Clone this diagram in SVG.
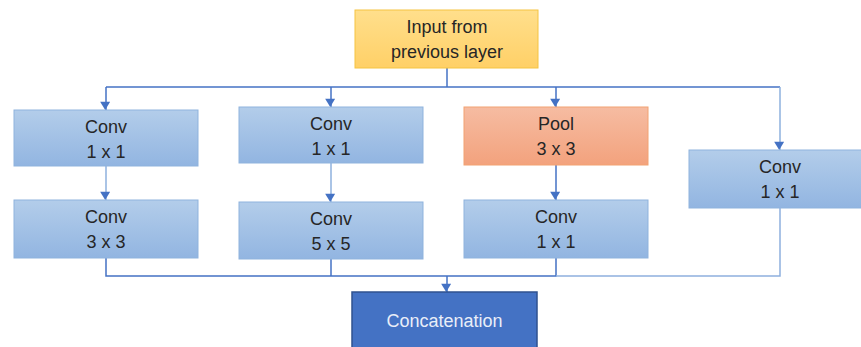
<svg xmlns="http://www.w3.org/2000/svg" width="861" height="347" viewBox="0 0 861 347">
<defs>
<linearGradient id="gBlue" x1="0" y1="0" x2="0" y2="1"><stop offset="0" stop-color="#b3cdea"/><stop offset="1" stop-color="#92b5e1"/></linearGradient>
<linearGradient id="gPool" x1="0" y1="0" x2="0" y2="1"><stop offset="0" stop-color="#f6bca2"/><stop offset="1" stop-color="#f3a27d"/></linearGradient>
<linearGradient id="gIn" x1="0" y1="0" x2="0" y2="1"><stop offset="0" stop-color="#ffdf8c"/><stop offset="1" stop-color="#ffd067"/></linearGradient>
<marker id="arr" markerUnits="userSpaceOnUse" markerWidth="12" markerHeight="10" refX="6" refY="10" orient="auto-start-reverse" viewBox="0 0 12 10">
<path d="M0,0 L12,0 L6,10 Z" fill="#4472c4" transform="rotate(-90 6 5)"/>
</marker>
<marker id="arrD" markerUnits="userSpaceOnUse" markerWidth="12" markerHeight="10" refX="10" refY="5" orient="auto" viewBox="0 0 10 12">
<path d="M0,0 L10,6 L0,12 Z" fill="#4472c4"/>
</marker>
</defs>
<style>
.blue{fill:url(#gBlue);stroke:#8fb3dd;stroke-width:1}
.pool{fill:url(#gPool);stroke:#f2a272;stroke-width:1}
.inp{fill:url(#gIn);stroke:#f5c443;stroke-width:1}
.cat{fill:#4472c4;stroke:#2f528f;stroke-width:1.5}
.t{font-family:"Liberation Sans",Arial,sans-serif;font-size:18px;fill:#262626;text-anchor:middle}
.tw{font-family:"Liberation Sans",Arial,sans-serif;font-size:18px;fill:#e9eef8;text-anchor:middle}
.ln{fill:none;stroke:#4472c4;stroke-width:1.5}
.lnl{fill:none;stroke:#8eb0de;stroke-width:1.5}
</style>
<g id="connectors">
<polyline class="ln" points="447,68 447,87"/>
<polyline class="ln" points="106,87 780,87"/>
<line class="ln" x1="106" y1="87" x2="106" y2="110" marker-end="url(#arrD)"/>
<line class="ln" x1="331" y1="87" x2="331" y2="107" marker-end="url(#arrD)"/>
<line class="ln" x1="556" y1="87" x2="556" y2="107" marker-end="url(#arrD)"/>
<polyline class="lnl" points="780,87 780,150" marker-end="url(#arrD)"/>
<line class="lnl" x1="106" y1="166" x2="106" y2="200" marker-end="url(#arrD)"/>
<line class="lnl" x1="331" y1="163" x2="331" y2="202" marker-end="url(#arrD)"/>
<line class="ln" x1="556" y1="165" x2="556" y2="200" marker-end="url(#arrD)"/>
<polyline class="ln" points="106,258 106,276 556,276 556,258"/>
<line class="ln" x1="331" y1="259" x2="331" y2="276"/>
<polyline class="lnl" points="556,276 780,276 780,208"/>
<line class="ln" x1="447" y1="276" x2="447" y2="292" marker-end="url(#arrD)"/>
</g>
<g id="input"><rect class="inp" x="355" y="10" width="183" height="58"/><text class="t" x="447" y="33">Input from</text><text class="t" x="447" y="58">previous layer</text></g>
<g id="conv1a"><rect class="blue" x="14" y="110" width="184" height="56"/><text class="t" x="106" y="132.5">Conv</text><text class="t" x="106" y="157.5">1 x 1</text></g>
<g id="conv3"><rect class="blue" x="14" y="200" width="184" height="58"/><text class="t" x="106" y="223">Conv</text><text class="t" x="106" y="248">3 x 3</text></g>
<g id="conv1b"><rect class="blue" x="239" y="107" width="184" height="56"/><text class="t" x="331" y="129.5">Conv</text><text class="t" x="331" y="154.5">1 x 1</text></g>
<g id="conv5"><rect class="blue" x="239" y="202" width="184" height="57"/><text class="t" x="331" y="224.5">Conv</text><text class="t" x="331" y="249.5">5 x 5</text></g>
<g id="pool"><rect class="pool" x="464" y="107" width="184" height="58"/><text class="t" x="556" y="129.5">Pool</text><text class="t" x="556" y="154.5">3 x 3</text></g>
<g id="conv1c"><rect class="blue" x="464" y="200" width="184" height="58"/><text class="t" x="556" y="223">Conv</text><text class="t" x="556" y="248">1 x 1</text></g>
<g id="conv1d"><rect class="blue" x="689" y="150" width="184" height="58"/><text class="t" x="780" y="172.5">Conv</text><text class="t" x="780" y="197.5">1 x 1</text></g>
<g id="concat"><rect class="cat" x="352" y="292" width="185" height="60"/><text class="tw" x="444.5" y="327">Concatenation</text></g>
</svg>
